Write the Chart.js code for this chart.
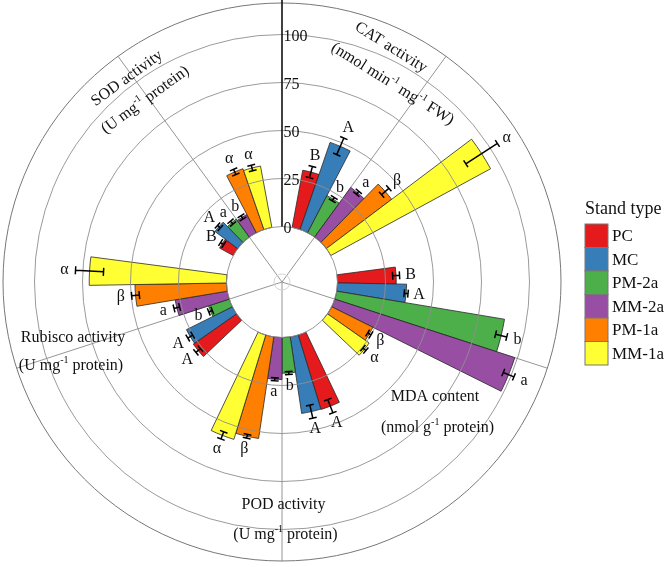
<!DOCTYPE html>
<html><head><meta charset="utf-8">
<script src="https://cdn.jsdelivr.net/npm/chart.js@4.4.1/dist/chart.umd.min.js"></script>
<style>html,body{margin:0;padding:0;background:#fff;}#wrap{width:666px;height:567px;position:relative;}</style>
</head><body><div id="wrap"><canvas id="c" width="666" height="567"></canvas></div>
<script>
// ---- data ----
const categories = ['CAT', 'MDA', 'POD', 'Rubisco', 'SOD'];
const standTypes = ['PC', 'MC', 'PM-2a', 'MM-2a', 'PM-1a', 'MM-1a'];
const standColors = ['#E41A1C', '#377EB8', '#4DAF4A', '#984EA3', '#FF7F00', '#FFFF33'];
// values in category order: CAT, MDA, POD, Rubisco, SOD
const PC   = [30.3, 30.6, 40.5, 27.5, 8.1];
const MC   = [48.0, 36.0, 40.3, 26.7, 14.8];
const PM2a = [21.8, 88.6, 18.6, 11.3, 11.6];
const MM2a = [32.0, 98.6, 21.9, 27.5, 10.7];
const PM1a = [42.6, 24.0, 53.5, 47.7, 33.5];
const MM1a = [94.7, 26.5, 56.8, 71.5, 32.5];
const errPC   = [3.0, 1.8, 3.7, 1.5, 1.0];
const errMC   = [4.7, 1.0, 3.5, 1.5, 1.0];
const errPM2a = [1.0, 3.0, 0.8, 1.0, 1.0];
const errMM2a = [1.0, 3.0, 0.8, 1.5, 1.0];
const errPM1a = [2.5, 1.0, 1.0, 2.0, 1.5];
const errMM1a = [9.8, 1.0, 2.0, 7.3, 1.5];
const lettersCAT     = ['B', 'A', 'b', 'a', 'β', 'α'];
const lettersMDA     = ['B', 'A', 'b', 'a', 'β', 'α'];
const lettersPOD     = ['A', 'A', 'b', 'a', 'β', 'α'];
const lettersRubisco = ['A', 'A', 'b', 'a', 'β', 'α'];
const lettersSOD     = ['B', 'A', 'a', 'b', 'α', 'α'];
const radialTicks = [0, 25, 50, 75, 100];
const legendTitle = 'Stand type';

// category label text (line 1, line 2 parts)
const catLabel1 = ['CAT activity', 'MDA content', 'POD activity', 'Rubisco activity', 'SOD activity'];
const catLabel2 = [
  [{t:'(nmol min'},{t:'-1',sup:true},{t:' mg'},{t:'-1',sup:true},{t:' FW)'}],
  [{t:'(nmol g'},{t:'-1',sup:true},{t:' protein)'}],
  [{t:'(U mg'},{t:'-1',sup:true},{t:' protein)'}],
  [{t:'(U mg'},{t:'-1',sup:true},{t:' protein)'}],
  [{t:'(U mg'},{t:'-1',sup:true},{t:' protein)'}]
];

// ---- build library data ----
const series = [PC, MC, PM2a, MM2a, PM1a, MM1a];
const errs = [errPC, errMC, errPM2a, errMM2a, errPM1a, errMM1a];
const letters = [lettersCAT, lettersMDA, lettersPOD, lettersRubisco, lettersSOD];
const BAR = 8.5, GAP = 72 - 6 * BAR;
const labels = [], values = [], bg = [], bc = [], bw = [], angles = [], info = [];
categories.forEach((cat, c) => {
  standTypes.forEach((st, s) => {
    labels.push(cat + ' ' + st); values.push(series[s][c]); bg.push(standColors[s]);
    bc.push('#2a2a2a'); bw.push(0.8); angles.push(BAR);
    info.push({v: series[s][c], e: errs[s][c], l: letters[c][s]});
  });
  labels.push(''); values.push(0); bg.push('rgba(0,0,0,0)'); bc.push('rgba(0,0,0,0)'); bw.push(0); angles.push(GAP); info.push(null);
});

const SERIF = "'Liberation Serif', 'Times New Roman', serif";
function drawRich(ctx, parts, x, y, rot, size) {
  ctx.save(); ctx.translate(x, y); ctx.rotate(rot * Math.PI / 180);
  const supSize = Math.round(size * 0.62);
  let w = 0;
  parts.forEach(p => { ctx.font = (p.sup ? supSize : size) + 'px ' + SERIF; p.w = ctx.measureText(p.t).width; w += p.w; });
  let xx = -w / 2; ctx.textBaseline = 'middle'; ctx.textAlign = 'left'; ctx.fillStyle = '#111';
  parts.forEach(p => { ctx.font = (p.sup ? supSize : size) + 'px ' + SERIF; ctx.fillText(p.t, xx, p.sup ? -size * 0.33 : 0); xx += p.w; });
  ctx.restore();
}

// label placements relative to centre: [dx1, dy1, dx2, dy2, rotation]
const catLabelPos = [
  [109, -234.5, 110.5, -198, 32],
  [153, 115, 155.5, 146, 0],
  [1.5, 223, 3.5, 253, 0],
  [-209, 56, -211, 84, 0],
  [-155, -203.7, -136.7, -182, -36]
];

const overlay = {
  id: 'overlay',
  afterDatasetsUpdate(chart) {
    const s = chart.scales.r;
    const r0 = s.getDistanceFromCenterForValue(0);
    chart.getDatasetMeta(0).data.forEach(a => { a.innerRadius = r0; });
  },
  beforeDatasetsDraw(chart) {
    const ctx = chart.ctx, s = chart.scales.r, arcs = chart.getDatasetMeta(0).data;
    const cx = s.xCenter, cy = s.yCenter;
    ctx.save();
    ctx.strokeStyle = '#8a8a8a'; ctx.lineWidth = 0.9;
    categories.forEach((c, i) => {
      const a = (arcs[i * 7].startAngle + arcs[i * 7 + 5].endAngle) / 2;
      ctx.beginPath(); ctx.moveTo(cx, cy);
      ctx.lineTo(cx + s.drawingArea * Math.cos(a), cy + s.drawingArea * Math.sin(a)); ctx.stroke();
    });
    ctx.strokeStyle = '#cfcfcf';
    ctx.beginPath(); ctx.arc(cx, cy, 8, 0, Math.PI * 2); ctx.stroke();
    ctx.restore();
  },
  afterDatasetsDraw(chart) {
    const ctx = chart.ctx, s = chart.scales.r, arcs = chart.getDatasetMeta(0).data;
    const cx = s.xCenter, cy = s.yCenter;
    ctx.save();
    // grid circles on top of bars
    ctx.strokeStyle = '#8f8f8f'; ctx.lineWidth = 0.9;
    radialTicks.forEach(v => {
      const r = s.getDistanceFromCenterForValue(v);
      ctx.beginPath(); ctx.arc(cx, cy, r, 0, Math.PI * 2); ctx.stroke();
    });
    ctx.strokeStyle = '#777'; ctx.lineWidth = 1;
    ctx.beginPath(); ctx.arc(cx, cy, s.getDistanceFromCenterForValue(s.max), 0, Math.PI * 2); ctx.stroke();
    // radial axis
    ctx.strokeStyle = '#111'; ctx.lineWidth = 1.6;
    ctx.beginPath(); ctx.moveTo(cx, cy - s.getDistanceFromCenterForValue(0)); ctx.lineTo(cx, 0); ctx.stroke();
    ctx.font = '16px ' + SERIF; ctx.fillStyle = '#111'; ctx.textAlign = 'left'; ctx.textBaseline = 'middle';
    radialTicks.forEach(v => {
      const r = s.getDistanceFromCenterForValue(v);
      ctx.fillText(String(v), cx + 1.5, cy - r + 2);
    });
    // error bars & letters
    arcs.forEach((el, i) => {
      const d = info[i]; if (!d) return;
      const a = (el.startAngle + el.endAngle) / 2;
      const ca = Math.cos(a), sa = Math.sin(a);
      const r1 = s.getDistanceFromCenterForValue(d.v - d.e), r2 = s.getDistanceFromCenterForValue(d.v + d.e);
      ctx.strokeStyle = '#000'; ctx.lineWidth = 1.5;
      ctx.beginPath();
      ctx.moveTo(cx + r1 * ca, cy + r1 * sa); ctx.lineTo(cx + r2 * ca, cy + r2 * sa);
      [r1, r2].forEach(r => {
        const px = cx + r * ca, py = cy + r * sa;
        ctx.moveTo(px - 4 * sa, py + 4 * ca); ctx.lineTo(px + 4 * sa, py - 4 * ca);
      });
      ctx.stroke();
      const rl = r2 + 11;
      ctx.font = '16px ' + SERIF; ctx.fillStyle = '#111'; ctx.textAlign = 'center'; ctx.textBaseline = 'middle';
      ctx.fillText(d.l, cx + rl * ca, cy + rl * sa);
    });
    // category labels
    categories.forEach((c, i) => {
      const p = catLabelPos[i];
      drawRich(ctx, [{t: catLabel1[i]}], cx + p[0], cy + p[1], p[4], 16);
      drawRich(ctx, catLabel2[i].map(q => Object.assign({}, q)), cx + p[2], cy + p[3], p[4], 16);
    });
    ctx.restore();
  },
  afterDraw(chart) {
    const ctx = chart.ctx;
    ctx.save();
    const lx = 585, ly = 224, bwid = 23, bh = 23.5;
    ctx.font = '18px ' + SERIF; ctx.fillStyle = '#111'; ctx.textAlign = 'left'; ctx.textBaseline = 'middle';
    ctx.fillText(legendTitle, lx, 209);
    standTypes.forEach((st, i) => {
      const y = ly + i * bh;
      ctx.fillStyle = standColors[i]; ctx.fillRect(lx, y, bwid, bh);
      ctx.strokeStyle = '#777'; ctx.lineWidth = 1; ctx.strokeRect(lx, y, bwid, bh);
      ctx.fillStyle = '#111'; ctx.font = '17px ' + SERIF;
      ctx.fillText(st, lx + 27, y + bh / 2 + 1);
    });
    ctx.restore();
  }
};

new Chart(document.getElementById('c'), {
  type: 'polarArea',
  data: { labels: labels, datasets: [{ data: values, backgroundColor: bg, borderColor: bc, borderWidth: bw, angle: (ctx) => angles[ctx.dataIndex] }] },
  options: {
    responsive: false, animation: false,
    layout: { padding: { left: 3, top: 3, right: 105, bottom: 6 } },
    plugins: { legend: { display: false }, tooltip: { enabled: false } },
    scales: { r: { min: -28.9, max: 116.4, beginAtZero: false, startAngle: 36 - 3 * BAR,
      ticks: { display: false }, grid: { display: false }, angleLines: { display: false }, pointLabels: { display: false } } }
  },
  plugins: [overlay]
});
</script></body></html>
